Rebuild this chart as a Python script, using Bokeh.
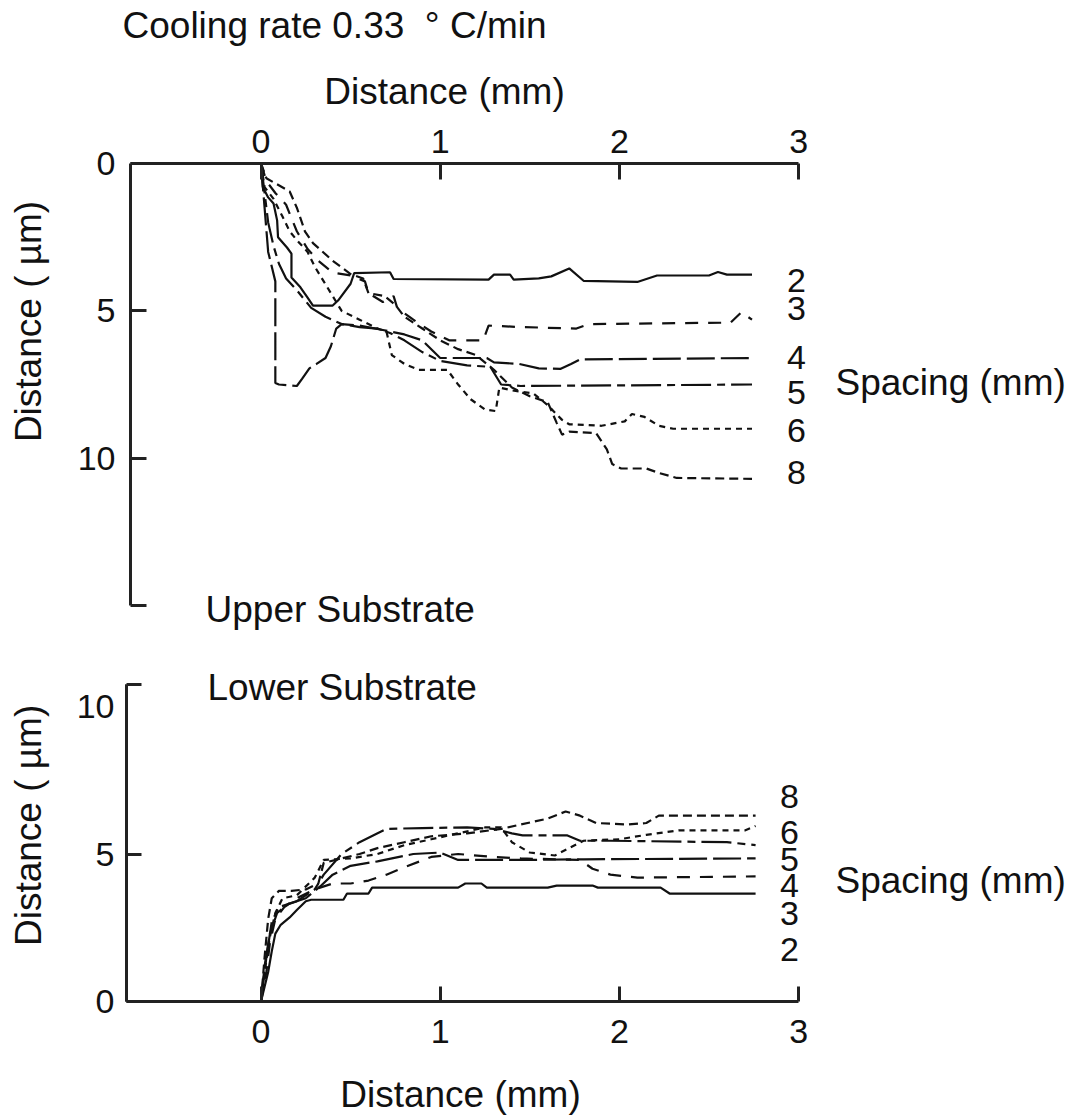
import math
from bokeh.plotting import figure
from bokeh.models import Range1d, FixedTicker, Label, LinearAxis
from bokeh.embed import file_html
from bokeh.resources import INLINE

FONT = "Liberation Sans"

# ---------------- data (x in mm, y in micrometres) ----------------
spacings = ["2", "3", "4", "5", "6", "8"]

# Upper substrate
up2_x = [0, 0.01, 0.04, 0.07, 0.09, 0.095, 0.145, 0.17, 0.17, 0.22, 0.26, 0.29, 0.40, 0.43, 0.50, 0.52, 0.72, 0.74, 1.27, 1.30, 1.39, 1.41, 1.55, 1.62, 1.72, 1.80, 2.10, 2.21, 2.50, 2.55, 2.60, 2.74]
up2_y = [0, 0.8, 1.15, 1.36, 1.93, 2.5, 2.85, 3.06, 3.87, 4.2, 4.55, 4.82, 4.82, 4.65, 4.08, 3.72, 3.69, 3.92, 3.94, 3.77, 3.77, 3.94, 3.9, 3.83, 3.56, 3.98, 4.02, 3.8, 3.8, 3.68, 3.77, 3.77]

up3_x = [0, 0.03, 0.08, 0.14, 0.2, 0.26, 0.32, 0.4, 0.5, 0.58, 0.6, 0.68, 0.74, 0.76, 0.85, 0.95, 1.05, 1.24, 1.27, 1.45, 1.76, 1.83, 2.62, 2.68, 2.74]
up3_y = [0, 0.6, 1.0, 1.4, 2.3, 2.9, 3.3, 3.7, 3.8, 4.0, 4.4, 4.7, 4.5, 4.9, 5.3, 5.7, 6.0, 6.0, 5.5, 5.55, 5.6, 5.45, 5.4, 5.05, 5.3]

up4_x = [0, 0.02, 0.04, 0.08, 0.08, 0.1, 0.2, 0.23, 0.27, 0.31, 0.36, 0.39, 0.42, 0.45, 0.55, 0.68, 0.8, 0.9, 1.0, 1.26, 1.3, 1.44, 1.55, 1.67, 1.73, 1.78, 2.74]
up4_y = [0, 1.5, 3.0, 4.0, 7.45, 7.5, 7.55, 7.3, 6.95, 6.8, 6.6, 6.2, 5.6, 5.45, 5.5, 5.65, 5.8, 6.0, 6.6, 6.6, 6.75, 6.8, 6.95, 6.97, 6.8, 6.65, 6.6]

up5_x = [0, 0.02, 0.04, 0.07, 0.1, 0.14, 0.2, 0.28, 0.36, 0.45, 0.55, 0.65, 0.72, 0.8, 0.9, 1.0, 1.15, 1.28, 1.34, 1.45, 2.74]
up5_y = [0, 1.0, 2.0, 2.8, 3.4, 3.9, 4.3, 4.9, 5.2, 5.45, 5.55, 5.6, 5.75, 6.0, 6.4, 6.7, 6.85, 6.9, 7.5, 7.55, 7.5]

up6_x = [0, 0.02, 0.07, 0.12, 0.16, 0.2, 0.26, 0.3, 0.35, 0.4, 0.45, 0.55, 0.65, 0.7, 0.73, 0.8, 0.88, 1.04, 1.1, 1.17, 1.25, 1.31, 1.33, 1.4, 1.52, 1.6, 1.68, 1.72, 1.9, 2.03, 2.07, 2.14, 2.22, 2.3, 2.74]
up6_y = [0, 0.8, 1.2, 1.8, 2.3, 2.6, 3.0, 3.5, 4.0, 4.5, 5.0, 5.3, 5.6, 5.7, 6.5, 6.8, 7.0, 7.0, 7.5, 8.0, 8.35, 8.4, 7.6, 7.7, 7.8, 8.2, 8.7, 8.85, 8.9, 8.75, 8.5, 8.6, 8.9, 9.0, 9.0]

up8_x = [0, 0.03, 0.16, 0.2, 0.245, 0.29, 0.4, 0.5, 0.57, 0.6, 0.69, 0.75, 0.8, 0.9, 1.0, 1.1, 1.2, 1.3, 1.4, 1.5, 1.6, 1.65, 1.68, 1.72, 1.87, 1.93, 1.96, 2.01, 2.15, 2.22, 2.32, 2.74]
up8_y = [0, 0.5, 0.95, 1.5, 2.3, 2.7, 3.3, 3.75, 3.9, 4.4, 4.5, 4.8, 5.2, 5.6, 6.0, 6.3, 6.5, 7.0, 7.6, 7.9, 8.1, 8.8, 9.2, 9.1, 9.15, 9.7, 10.2, 10.35, 10.35, 10.5, 10.67, 10.7]

# Lower substrate
lo2_x = [0, 0.02, 0.04, 0.06, 0.08, 0.11, 0.16, 0.2, 0.25, 0.28, 0.46, 0.48, 0.6, 0.62, 1.1, 1.14, 1.23, 1.26, 1.6, 1.65, 1.85, 1.88, 2.23, 2.28, 2.76]
lo2_y = [0, 0.5, 1.0, 1.7, 2.3, 2.6, 2.85, 3.1, 3.4, 3.45, 3.45, 3.66, 3.66, 3.86, 3.86, 4.0, 4.0, 3.86, 3.86, 3.93, 3.93, 3.86, 3.86, 3.66, 3.66]

lo3_x = [0, 0.03, 0.05, 0.08, 0.13, 0.2, 0.3, 0.4, 0.5, 0.6, 0.7, 0.8, 0.95, 1.1, 1.3, 1.45, 1.78, 1.85, 1.95, 2.1, 2.76]
lo3_y = [0, 1.0, 2.0, 2.8, 3.2, 3.5, 3.8, 4.0, 4.0, 4.1, 4.3, 4.55, 4.9, 5.0, 4.9, 4.85, 4.8, 4.5, 4.3, 4.2, 4.24]

lo4_x = [0, 0.02, 0.05, 0.09, 0.15, 0.25, 0.33, 0.4, 0.5, 0.65, 0.85, 1.0, 1.1, 1.5, 1.8, 2.76]
lo4_y = [0, 1.2, 2.3, 3.0, 3.3, 3.5, 3.9, 4.3, 4.6, 4.75, 5.0, 5.05, 4.8, 4.8, 4.82, 4.85]

lo5_x = [0, 0.03, 0.06, 0.1, 0.2, 0.3, 0.35, 0.45, 0.55, 0.7, 0.9, 1.15, 1.3, 1.4, 1.46, 1.71, 1.78, 1.95, 2.6, 2.76]
lo5_y = [0, 1.5, 2.7, 3.2, 3.4, 3.8, 4.3, 5.0, 5.4, 5.85, 5.88, 5.9, 5.85, 5.7, 5.63, 5.63, 5.45, 5.45, 5.4, 5.3]

lo6_x = [0, 0.02, 0.05, 0.08, 0.12, 0.2, 0.3, 0.35, 0.5, 0.65, 0.8, 0.95, 1.1, 1.25, 1.34, 1.4, 1.5, 1.64, 1.72, 1.8, 2.0, 2.15, 2.33, 2.7, 2.76]
lo6_y = [0, 1.0, 2.2, 3.0, 3.5, 3.6, 4.2, 4.8, 4.85, 5.0, 5.3, 5.5, 5.7, 5.9, 5.9, 5.4, 5.05, 4.95, 5.2, 5.45, 5.5, 5.65, 5.8, 5.8, 5.95]

lo8_x = [0, 0.02, 0.04, 0.06, 0.1, 0.17, 0.25, 0.32, 0.35, 0.45, 0.55, 0.65, 0.8, 0.95, 1.15, 1.34, 1.45, 1.6, 1.7, 1.78, 1.87, 2.05, 2.15, 2.22, 2.76]
lo8_y = [0, 1.5, 2.8, 3.5, 3.75, 3.75, 3.8, 4.0, 4.7, 4.85, 5.0, 5.2, 5.4, 5.6, 5.7, 5.85, 6.0, 6.2, 6.44, 6.3, 6.05, 6.0, 6.05, 6.3, 6.3]

# end-of-curve label positions (y values where the spacing numbers sit)
upper_label_y = [3.97, 4.92, 6.58, 7.77, 9.06, 10.48]
lower_label_y = [1.76, 2.98, 3.93, 4.81, 5.73, 6.95]

x_ticks = [0, 1, 2, 3]
upper_y_ticks = [0, 5, 10, 15]
lower_y_labels = [0, 5, 10]
lower_y_marks = [0, 5, 10.75]

dashes = ["solid", "13 10", "28 6", "30 6 8 6", "6 5", "9 5"]

upper = [(up2_x, up2_y), (up3_x, up3_y), (up4_x, up4_y), (up5_x, up5_y), (up6_x, up6_y), (up8_x, up8_y)]
lower = [(lo2_x, lo2_y), (lo3_x, lo3_y), (lo4_x, lo4_y), (lo5_x, lo5_y), (lo6_x, lo6_y), (lo8_x, lo8_y)]

# ---------------- geometry ----------------
W, H = 1071, 1115
PXMM = 179.2          # pixels per mm (shared x scale)
X0 = 260.5            # pixel column of x = 0
x_start = -X0 / PXMM
x_end = x_start + W / PXMM

# lower panel: y = 0 at pixel row 1001, upward
PXUM_LO = 29.5
Y0_LO = 1001
lo_start = -(H - Y0_LO) / PXUM_LO
lo_end = Y0_LO / PXUM_LO

# upper panel: y = 0 at pixel row 163, downward
PXUM_UP = 29.47
Y0_UP = 163
up_bottom = (H - Y0_UP) / PXUM_UP
up_top = -Y0_UP / PXUM_UP

x_left_up = (130 - X0) / PXMM
x_left_lo = (126 - X0) / PXMM

p = figure(width=W, height=H, output_backend="svg", toolbar_location=None,
           x_range=Range1d(x_start, x_end), y_range=Range1d(lo_start, lo_end),
           x_axis_type=None, y_axis_type=None, min_border=0)
p.extra_y_ranges = {"up": Range1d(up_bottom, up_top)}
p.outline_line_color = None
p.background_fill_color = "white"
p.border_fill_color = "white"


def style_axis(ax, standoff, tick_in=16, size="34px"):
    ax.axis_line_width = 3
    ax.axis_line_color = "#222222"
    ax.major_tick_line_width = 3
    ax.major_tick_line_color = "#222222"
    ax.major_tick_in = tick_in
    ax.major_tick_out = 0
    ax.minor_tick_line_color = None
    ax.major_label_text_font = FONT
    ax.major_label_text_font_size = size
    ax.major_label_text_color = "#111111"
    ax.major_label_standoff = standoff


# upper panel axes
ax_up = LinearAxis(y_range_name="up", fixed_location=0, ticker=FixedTicker(ticks=x_ticks),
                   bounds=(x_left_up, 3))
style_axis(ax_up, standoff=11)
p.add_layout(ax_up, "above")

ay_up = LinearAxis(y_range_name="up", fixed_location=x_left_up,
                   ticker=FixedTicker(ticks=upper_y_ticks), bounds=(0, 15),
                   major_label_overrides={15: ""})
style_axis(ay_up, standoff=15)
p.add_layout(ay_up, "left")

# lower panel axes
ax_lo = LinearAxis(fixed_location=0, ticker=FixedTicker(ticks=x_ticks), bounds=(x_left_lo, 3))
style_axis(ax_lo, standoff=18, tick_in=15)
p.add_layout(ax_lo, "below")

# labels of the lower y axis (no tick marks)
ay_lo = LinearAxis(fixed_location=x_left_lo, ticker=FixedTicker(ticks=lower_y_labels),
                   bounds=(0, 10.75))
style_axis(ay_lo, standoff=12, tick_in=15)
ay_lo.major_tick_line_color = None
p.add_layout(ay_lo, "left")

# tick marks of the lower y axis (no labels)
ay_lo_marks = LinearAxis(fixed_location=x_left_lo, ticker=FixedTicker(ticks=lower_y_marks),
                         bounds=(0, 10.75),
                         major_label_overrides={t: "" for t in lower_y_marks})
style_axis(ay_lo_marks, standoff=12, tick_in=15)
p.add_layout(ay_lo_marks, "left")

# curves
for (xs, ys), d in zip(upper, dashes):
    p.line(xs, ys, y_range_name="up", line_color="#111111", line_width=2.2, line_dash=d)
for (xs, ys), d in zip(lower, dashes):
    p.line(xs, ys, line_color="#111111", line_width=2.2, line_dash=d)


def txt(x, y, s, size="37px", align="left", angle=0.0, rng="default"):
    p.add_layout(Label(x=x, y=y, text=s, text_font=FONT, text_font_size=size,
                       text_color="#111111", text_align=align, text_baseline="middle",
                       angle=angle, y_range_name=rng))


def xpx(px):
    return (px - X0) / PXMM


# upper panel texts
txt(xpx(122), -4.67, "Cooling rate 0.33\u00a0\u00a0\u00b0\u00a0C/min", rng="up")
txt(xpx(444), -2.44, "Distance (mm)", align="center", rng="up")
txt(xpx(28), 5.36, "Distance ( \u00b5m)", align="center", angle=math.pi / 2, rng="up")
txt(xpx(205), 15.12, "Upper Substrate", rng="up")
for s, yy in zip(spacings, upper_label_y):
    txt(xpx(796), yy, s, size="34px", align="center", rng="up")
txt(xpx(835), 7.43, "Spacing (mm)", rng="up")

# lower panel texts
txt(xpx(207), 10.66, "Lower Substrate")
txt(xpx(28), 5.97, "Distance ( \u00b5m)", align="center", angle=math.pi / 2)
txt(xpx(460), -3.15, "Distance (mm)", align="center")
for s, yy in zip(spacings, lower_label_y):
    txt(xpx(789), yy, s, size="34px", align="center")
txt(xpx(835), 4.1, "Spacing (mm)")

open("out.html", "w").write(file_html(p, INLINE))
